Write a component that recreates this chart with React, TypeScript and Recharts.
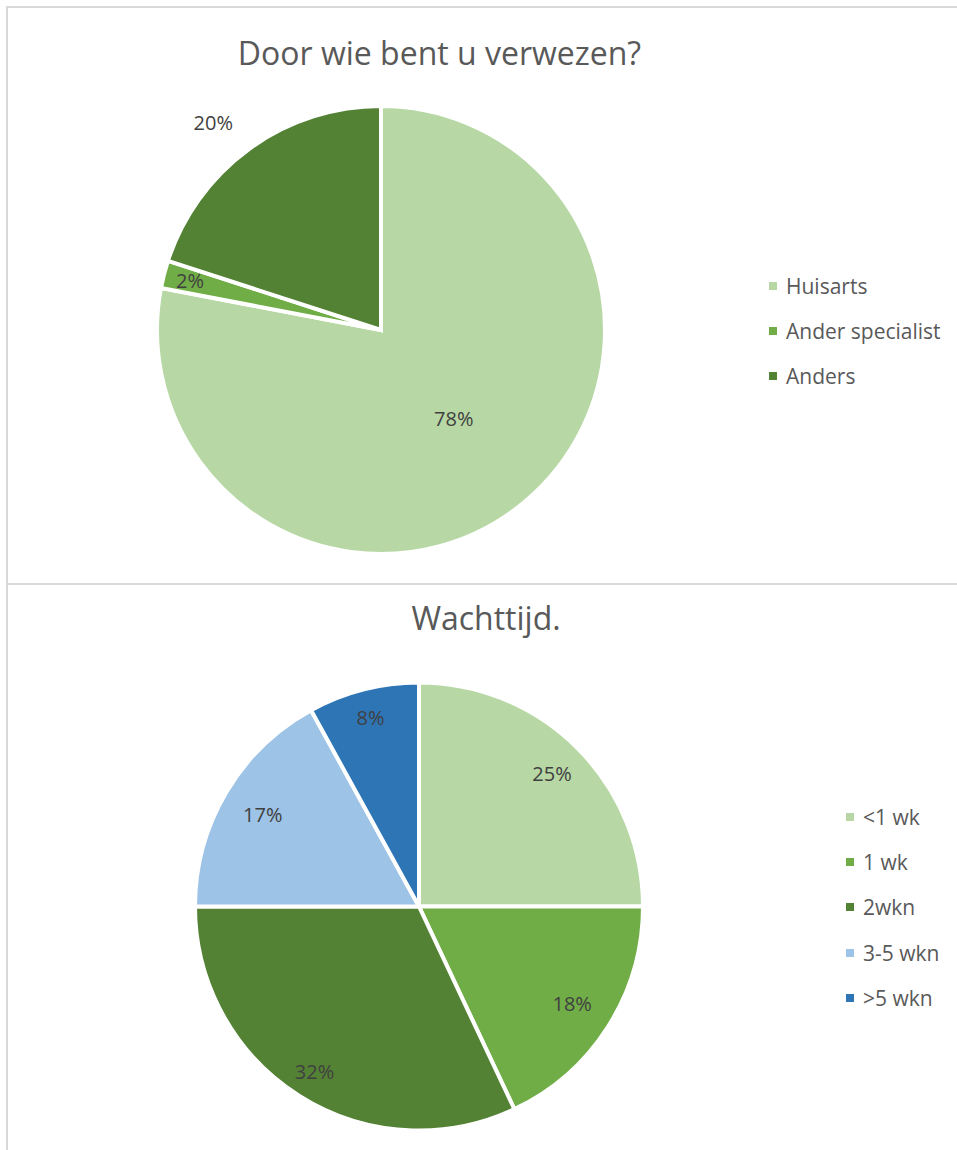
import React from "react";
import { PieChart, Pie, Cell, Legend } from "recharts";

// Door wie bent u verwezen?
const referralNames = ["Huisarts", "Ander specialist", "Anders"];
const referralValues = [78, 2, 20];
const referralColors = ["#B7D8A4", "#70AD47", "#548235"];

// Wachttijd.
const waitNames = ["<1 wk", "1 wk", "2wkn", "3-5 wkn", ">5 wkn"];
const waitValues = [25, 18, 32, 17, 8];
const waitColors = ["#B7D8A4", "#70AD47", "#548235", "#9DC3E6", "#2E75B6"];

// where Excel put each data label: share of the radius, and a small angle nudge
const referralLabelR = [0.51, 0.88, 1.19];
const referralLabelDA = [0, 0, 3];
const waitLabelR = [0.84, 0.81, 0.87, 0.81, 0.87];
const waitLabelDA = [0, 0, 0, 0, 0];

const FONT = "'Open Sans', 'Liberation Sans', sans-serif";
const RADIAN = Math.PI / 180;

const makeLabel = (factors: number[], nudges: number[]) => (props: any) => {
  const { cx, cy, midAngle, outerRadius, percent, index } = props;
  const r = outerRadius * factors[index];
  const a = (midAngle + nudges[index]) * RADIAN;
  const x = cx + r * Math.cos(-a);
  const y = cy + r * Math.sin(-a);
  return (
    <text
      x={x}
      y={y}
      fill="#404040"
      fontSize={20}
      fontFamily={FONT}
      textAnchor="middle"
      dominantBaseline="central"
    >
      {Math.round(percent * 100) + "%"}
    </text>
  );
};

// legend in data order (recharts sorts the payload by name)
const makeLegend = (names: string[], colors: string[]) => (props: any) => {
  const payload: any[] = props.payload || [];
  const items = names.map((n, i) => {
    const p = payload.find((e) => e.value === n);
    return { value: n, color: p?.color ?? colors[i] };
  });
  return (
    <div>
      {items.map((it, i) => (
        <div
          key={i}
          style={{
            height: 45.3,
            display: "flex",
            alignItems: "center",
            fontFamily: FONT,
            fontSize: 21,
            color: "#595959",
            whiteSpace: "nowrap",
          }}
        >
          <span
            style={{
              display: "inline-block",
              width: 8,
              height: 8,
              background: it.color,
              marginRight: 9,
            }}
          />
          {it.value}
        </div>
      ))}
    </div>
  );
};

const referralData = referralNames.map((name, i) => ({ name, value: referralValues[i] }));
const waitData = waitNames.map((name, i) => ({ name, value: waitValues[i] }));

export default function App() {
  return (
    <div
      style={{
        position: "absolute",
        left: 0,
        top: 0,
        width: 957,
        height: 1150,
        overflow: "hidden",
        background: "#fff",
      }}
    >
      {/* frame lines */}
      <div
        style={{
          position: "absolute",
          left: 6,
          top: 6,
          width: 1200,
          height: 1400,
          borderLeft: "2px solid #D9D9D9",
          borderTop: "2px solid #D9D9D9",
        }}
      />
      <div
        style={{
          position: "absolute",
          left: 6,
          top: 583,
          width: 1200,
          height: 2,
          background: "#D9D9D9",
        }}
      />

      <div style={{ position: "absolute", left: 0, top: 0 }}>
        <PieChart width={957} height={583} margin={{ top: 0, right: 0, bottom: 0, left: 0 }}>
          <Pie
            data={referralData}
            dataKey="value"
            nameKey="name"
            cx={381}
            cy={330}
            outerRadius={224}
            startAngle={90}
            endAngle={-270}
            stroke="#fff"
            strokeWidth={4}
            label={makeLabel(referralLabelR, referralLabelDA)}
            labelLine={false}
            isAnimationActive={false}
          >
            {referralData.map((_, i) => (
              <Cell key={i} fill={referralColors[i]} />
            ))}
          </Pie>
          <Legend
            content={makeLegend(referralNames, referralColors)}
            wrapperStyle={{ position: "absolute", left: 769, top: 263, width: 188 }}
          />
        </PieChart>
      </div>

      <div style={{ position: "absolute", left: 0, top: 585 }}>
        <PieChart width={957} height={565} margin={{ top: 0, right: 0, bottom: 0, left: 0 }}>
          <Pie
            data={waitData}
            dataKey="value"
            nameKey="name"
            cx={419}
            cy={321.5}
            outerRadius={224}
            startAngle={90}
            endAngle={-270}
            stroke="#fff"
            strokeWidth={4}
            label={makeLabel(waitLabelR, waitLabelDA)}
            labelLine={false}
            isAnimationActive={false}
          >
            {waitData.map((_, i) => (
              <Cell key={i} fill={waitColors[i]} />
            ))}
          </Pie>
          <Legend
            content={makeLegend(waitNames, waitColors)}
            wrapperStyle={{ position: "absolute", left: 846, top: 209, width: 111 }}
          />
        </PieChart>
      </div>

      {/* titles */}
      <svg
        width={957}
        height={1150}
        style={{ position: "absolute", left: 0, top: 0, pointerEvents: "none" }}
      >
        <text x={439.5} y={65} textAnchor="middle" fontFamily={FONT} fontSize={32} fill="#595959">
          Door wie bent u verwezen?
        </text>
        <text x={486} y={630} textAnchor="middle" fontFamily={FONT} fontSize={32} fill="#595959">
          Wachttijd.
        </text>
      </svg>
    </div>
  );
}
